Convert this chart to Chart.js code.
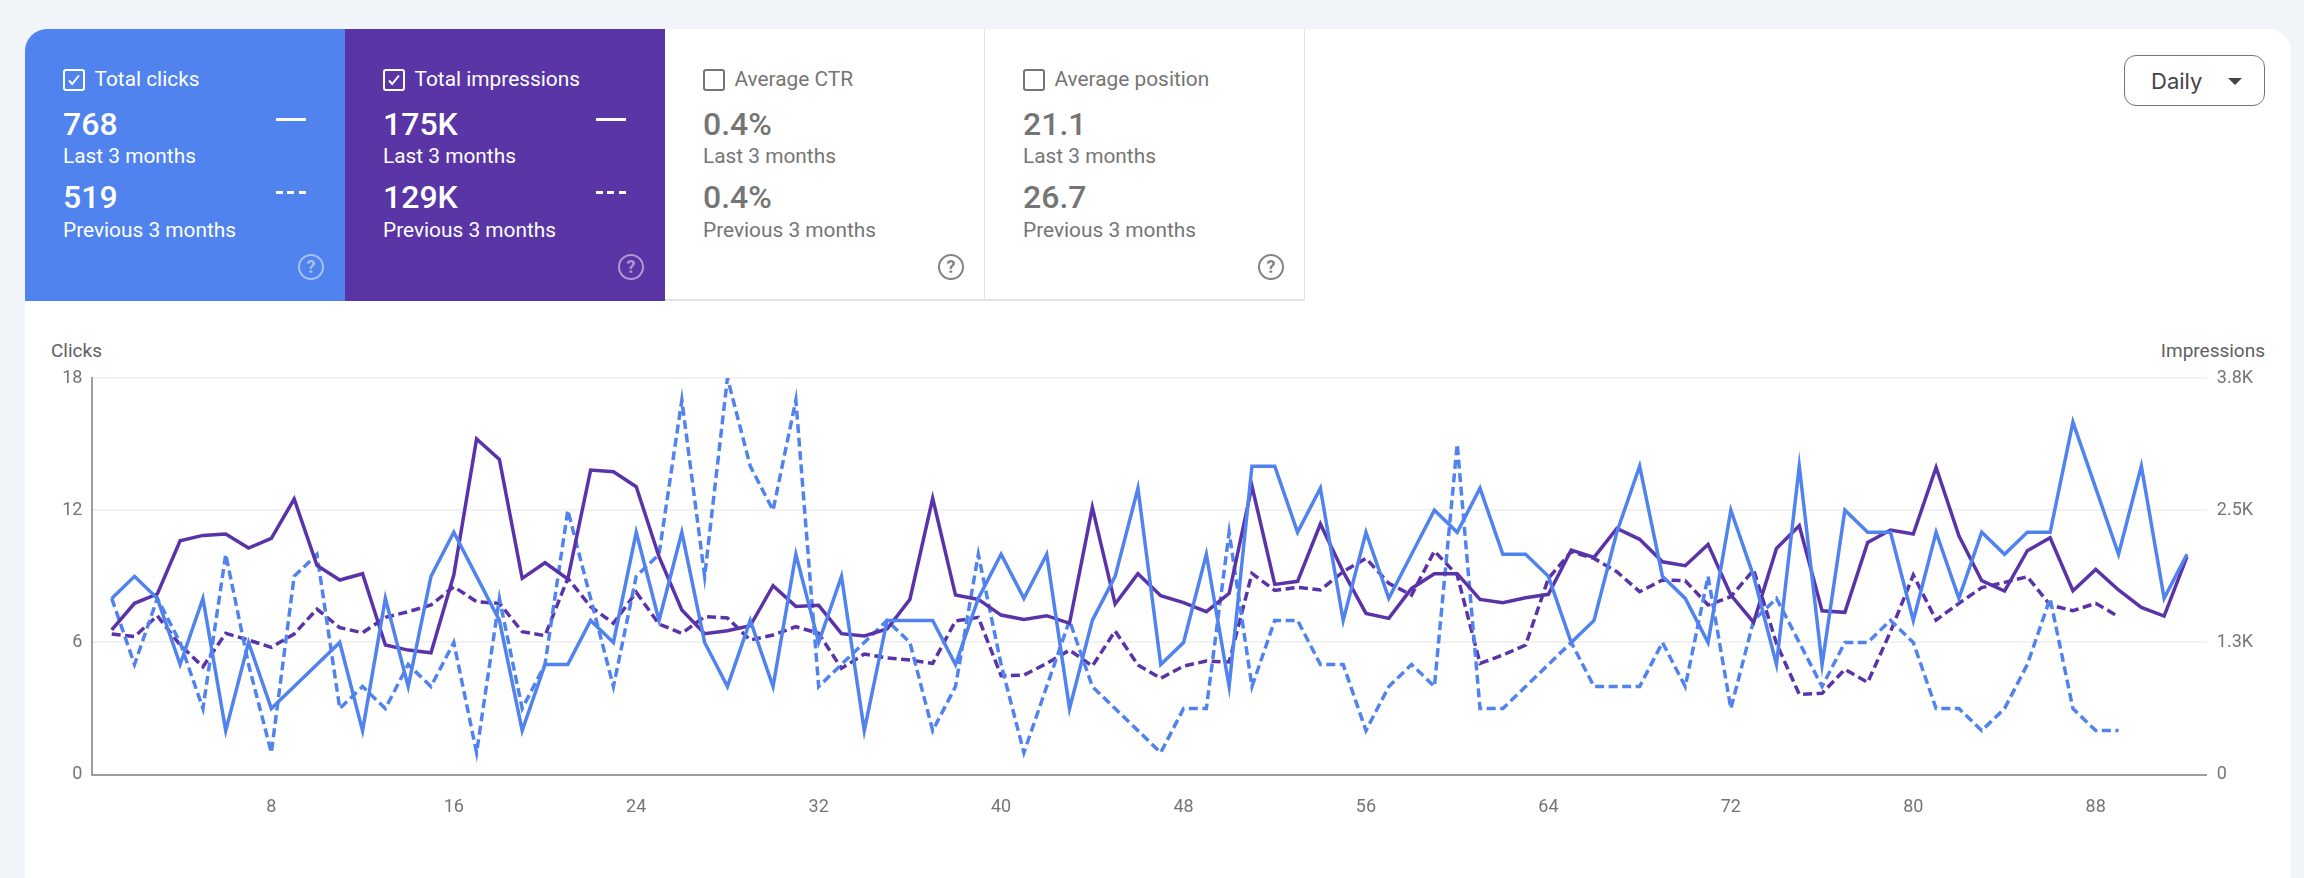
<!DOCTYPE html>
<html>
<head>
<meta charset="utf-8">
<title>Search performance</title>
<script src="https://cdn.jsdelivr.net/npm/chart.js@4"></script>
<style>
    html, body { margin: 0; padding: 0; width: 2304px; height: 878px; overflow: hidden; background: #f1f4f9; font-family: Roboto, sans-serif; }
    .card { position: absolute; left: 25px; top: 29px; width: 2266px; height: 900px; background: #fff; border-radius: 22px 22px 0 0; overflow: hidden; }
    .tile { position: absolute; top: 0; width: 320px; height: 272px; color: #757575; box-sizing: border-box; }
    .tile.blue { left: 0; background: #5083ed; color: #fff; }
    .tile.purple { left: 320px; background: #5a35a6; color: #fff; }
    .tile.ctr { left: 640px; border-bottom: 2px solid #e3e3e3; border-right: 1px solid #e3e3e3; }
    .tile.pos { left: 960px; border-bottom: 2px solid #e3e3e3; border-right: 1px solid #e3e3e3; }
    .tile > * { position: absolute; white-space: nowrap; }
    .box { left: 38px; top: 40px; width: 22px; height: 22px; box-sizing: border-box; border: 2px solid currentColor; border-radius: 3px; }
    .box svg { position: absolute; left: 1px; top: 1px; }
    .name { left: 69.5px; top: 37px; font-size: 20.85px; line-height: 26px; }
    .num { left: 38px; font-size: 32px; line-height: 36px; font-weight: 500; }
    .sub { left: 38px; font-size: 20.85px; line-height: 26px; }
    .solid { left: 251px; top: 88.5px; width: 30px; height: 3px; background: #fff; }
    .dash { left: 251px; top: 161.5px; width: 30px; height: 3px; background: repeating-linear-gradient(90deg, #fff 0 7px, transparent 7px 11.5px); }
    .help { left: 273px; top: 225px; width: 26px; height: 26px; box-sizing: border-box; border: 2.5px solid currentColor; border-radius: 50%; text-align: center; font-size: 18px; font-weight: 700; line-height: 21px; opacity: .5; }
    .tile.ctr .help, .tile.pos .help { opacity: .9; }
    .period { position: absolute; left: 2124px; top: 55px; width: 141px; height: 51px; box-sizing: border-box; border: 1px solid #757575; border-radius: 12px; background: #fff; color: #444; }
    .period span { position: absolute; left: 26px; top: 11px; font-family: Inter, sans-serif; font-size: 22px; line-height: 28px; }
    .period i { position: absolute; left: 103px; top: 22px; width: 0; height: 0; border-left: 7px solid transparent; border-right: 7px solid transparent; border-top: 7px solid #444; }
    .axis-title { position: absolute; top: 340px; font-size: 19px; line-height: 22px; color: #616161; }
    #chart-wrap { position: absolute; left: 0; top: 340px; width: 2304px; height: 538px; }
</style>
</head>
<body>
<div class="card">
    <div class="tile blue">
        <div class="box"><svg width="16" height="16" viewBox="0 0 16 16"><path d="M3 8.5l3.2 3.5L13 3.5" fill="none" stroke="#fff" stroke-width="2"/></svg></div>
        <div class="name">Total clicks</div>
        <div class="num" style="top:77px">768</div><div class="solid"></div>
        <div class="sub" style="top:114px">Last 3 months</div>
        <div class="num" style="top:150px">519</div><div class="dash"></div>
        <div class="sub" style="top:188px">Previous 3 months</div>
        <div class="help">?</div>
    </div>
    <div class="tile purple">
        <div class="box"><svg width="16" height="16" viewBox="0 0 16 16"><path d="M3 8.5l3.2 3.5L13 3.5" fill="none" stroke="#fff" stroke-width="2"/></svg></div>
        <div class="name">Total impressions</div>
        <div class="num" style="top:77px">175K</div><div class="solid"></div>
        <div class="sub" style="top:114px">Last 3 months</div>
        <div class="num" style="top:150px">129K</div><div class="dash"></div>
        <div class="sub" style="top:188px">Previous 3 months</div>
        <div class="help">?</div>
    </div>
    <div class="tile ctr">
        <div class="box"></div>
        <div class="name">Average CTR</div>
        <div class="num" style="top:77px">0.4%</div>
        <div class="sub" style="top:114px">Last 3 months</div>
        <div class="num" style="top:150px">0.4%</div>
        <div class="sub" style="top:188px">Previous 3 months</div>
        <div class="help">?</div>
    </div>
    <div class="tile pos">
        <div class="box"></div>
        <div class="name">Average position</div>
        <div class="num" style="top:77px">21.1</div>
        <div class="sub" style="top:114px">Last 3 months</div>
        <div class="num" style="top:150px">26.7</div>
        <div class="sub" style="top:188px">Previous 3 months</div>
        <div class="help">?</div>
    </div>
</div>
<div class="period"><span>Daily</span><i></i></div>
<div class="axis-title" style="left:51px">Clicks</div>
<div class="axis-title" style="right:39px">Impressions</div>
<div id="chart-wrap"><canvas id="chart" width="2304" height="538"></canvas></div>

<script>
// values
const xTicks = [8, 16, 24, 32, 40, 48, 56, 64, 72, 80, 88];
const clickTicks = [0, 6, 12, 18];
const imprTicks = ['0', '1.3K', '2.5K', '3.8K'];

const clicksLast = [
    8, 9, 8, 5, 8, 2, 6, 3, 4, 5,
    6, 2, 8, 4, 9, 11, 9, 7, 2, 5,
    5, 7, 6, 11, 7, 11, 6, 4, 7, 4,
    10, 6, 9, 2, 7, 7, 7, 5, 8, 10,
    8, 10, 3, 7, 9, 13, 5, 6, 10, 4,
    14, 14, 11, 13, 7, 11, 8, 10, 12, 11,
    13, 10, 10, 9, 6, 7, 11, 14, 9, 8,
    6, 12, 9, 5, 14, 5, 12, 11, 11, 7,
    11, 8, 11, 10, 11, 11, 16, 13, 10, 14,
    8, 10
];
const clicksPrev = [
    8, 5, 8, 6, 3, 10, 5, 1, 9, 10,
    3, 4, 3, 5, 4, 6, 1, 8, 3, 5,
    12, 8, 4, 9, 10, 17, 9, 18, 14, 12,
    17, 4, 5, 6, 7, 6, 2, 4, 10, 5,
    1, 4, 7, 4, 3, 2, 1, 3, 3, 11,
    4, 7, 7, 5, 5, 2, 4, 5, 4, 15,
    3, 3, 4, 5, 6, 4, 4, 4, 6, 4,
    9, 3, 7, 8, 6, 4, 6, 6, 7, 6,
    3, 3, 2, 3, 5, 8, 3, 2, 2
];
const imprLast = [
    1368, 1620, 1708, 2212, 2262, 2275, 2143, 2234, 2606, 1979,
    1840, 1900, 1226, 1178, 1153, 1887, 3173, 2981, 1856, 2004,
    1850, 2880, 2864, 2722, 2061, 1557, 1333, 1361, 1408, 1787,
    1591, 1601, 1333, 1311, 1377, 1657, 2612, 1698, 1657, 1509,
    1468, 1503, 1431, 2527, 1613, 1900, 1692, 1626, 1541, 1714,
    2729, 1799, 1828, 2370, 1919, 1525, 1478, 1761, 1900, 1900,
    1657, 1626, 1673, 1705, 2124, 2054, 2329, 2225, 2013, 1976,
    2177, 1698, 1440, 2139, 2354, 1550, 1535, 2196, 2313, 2275,
    2905, 2259, 1834, 1736, 2117, 2240, 1739, 1941, 1746, 1582,
    1500, 2061
];
const imprPrev = [
    1330, 1305, 1503, 1226, 1021, 1336, 1273, 1204, 1330, 1566,
    1390, 1342, 1487, 1541, 1604, 1777, 1635, 1620, 1352, 1314,
    1856, 1588, 1431, 1724, 1424, 1336, 1494, 1481, 1273, 1320,
    1399, 1336, 1005, 1141, 1103, 1084, 1052, 1453, 1487, 936,
    942, 1052, 1178, 1027, 1358, 1037, 911, 1027, 1074, 1065,
    1903, 1742, 1771, 1746, 1919, 2045, 1809, 1698, 2114, 1887,
    1052, 1131, 1226, 1856, 2108, 2045, 1919, 1730, 1840, 1834,
    1604, 1683, 1935, 1241, 759, 769, 996, 873, 1352, 1887,
    1462, 1620, 1768, 1818, 1872, 1604, 1550, 1620, 1494
];

const BLUE = '#5083ed';
const PURPLE = '#5a33a8';
const TICK_FONT = { family: 'Roboto', size: 18 };

// day numbers start at 1
const pts = arr => arr.map((v, i) => ({ x: i + 1, y: v }));

function line(values, color, axis, dashed) {
    return {
        data: pts(values),
        yAxisID: axis,
        borderColor: color,
        borderWidth: 3.5,
        borderDash: dashed ? [9, 4.5] : [],
        pointRadius: 0,
        tension: 0,
        fill: false
    };
}

new Chart(document.getElementById('chart'), {
    type: 'line',
    data: {
        datasets: [
            line(clicksLast, BLUE, 'y', false),
            line(imprLast, PURPLE, 'y1', false),
            line(clicksPrev, BLUE, 'y', true),
            line(imprPrev, PURPLE, 'y1', true)
        ]
    },
    options: {
        responsive: false,
        animation: false,
        layout: { padding: { top: 38 } },
        plugins: { legend: { display: false }, tooltip: { enabled: false } },
        scales: {
            x: {
                type: 'linear',
                min: 0.153,
                max: 92.87,
                afterBuildTicks: s => { s.ticks = xTicks.map(v => ({ value: v })); },
                afterFit: s => { s.height = 103.3; },
                grid: { display: false, drawTicks: false },
                border: { color: '#9e9e9e', width: 2 },
                ticks: { color: '#757575', font: TICK_FONT, padding: 22, maxRotation: 0, autoSkip: false }
            },
            y: {
                position: 'left',
                min: 0,
                max: 18,
                afterFit: s => { s.width = 92.4; },
                grid: { color: '#f1f1f1', lineWidth: 2, drawTicks: false },
                border: { color: '#9e9e9e', width: 2 },
                ticks: {
                    stepSize: 6,
                    color: '#757575',
                    font: TICK_FONT,
                    padding: 10,
                    callback: (v, i) => clickTicks[i]
                }
            },
            y1: {
                position: 'right',
                min: 0,
                max: 3750,
                afterFit: s => { s.width = 97.2; },
                grid: { display: false, drawTicks: false },
                border: { display: false },
                ticks: {
                    stepSize: 1250,
                    color: '#757575',
                    font: TICK_FONT,
                    padding: 10,
                    callback: (v, i) => imprTicks[i]
                }
            }
        }
    }
});
</script>
</body>
</html>
